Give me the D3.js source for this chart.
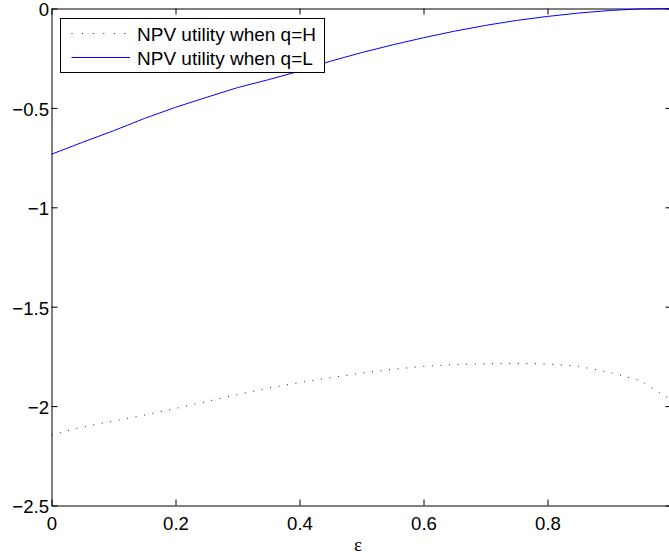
<!DOCTYPE html>
<html>
<head>
<meta charset="utf-8">
<script src="https://cdn.jsdelivr.net/npm/d3@7"></script>
<style>
  html, body { margin: 0; padding: 0; background: #fff; overflow: hidden; }
  svg { display: block; }
</style>
</head>
<body>
<svg id="chart" width="669" height="556"></svg>
<script>
// ---- data ----
const epsilon = [0, 0.05, 0.1, 0.15, 0.2, 0.25, 0.3, 0.35, 0.4, 0.45, 0.5,
                 0.55, 0.6, 0.65, 0.7, 0.75, 0.8, 0.85, 0.9, 0.95, 1.0];
const utilityH = [-2.145, -2.105, -2.075, -2.045, -2.012, -1.977, -1.942, -1.909, -1.882, -1.857, -1.834,
                  -1.815, -1.800, -1.791, -1.787, -1.785, -1.788, -1.800, -1.830, -1.872, -1.970];
const utilityL = [-0.733, -0.673, -0.615, -0.553, -0.497, -0.447, -0.398, -0.358, -0.315, -0.265, -0.222,
                  -0.183, -0.147, -0.114, -0.085, -0.060, -0.040, -0.023, -0.010, -0.002, 0];
const xTicks = [0, 0.2, 0.4, 0.6, 0.8, 1];
const yTicks = [0, -0.5, -1, -1.5, -2, -2.5];
const seriesNames = ["NPV utility when q=H", "NPV utility when q=L"];
const xLabel = "ε";

// ---- layout ----
const svg = d3.select("#chart");
const pLeft = 51.5, pRight = 671.5, pTop = 8.5, pBottom = 505.5;
const font = "'Liberation Sans', Arial, Helvetica, sans-serif";
const fs = 18.6;

const x = d3.scaleLinear().domain([0, 1]).range([pLeft, pRight]);
const y = d3.scaleLinear().domain([-2.5, 0]).range([pBottom, pTop]);
const fmt = d3.format("");

function styleAxis(g) {
  g.attr("font-family", font).attr("font-size", fs);
  g.selectAll("path.domain").attr("stroke", "#000").attr("stroke-width", 1);
  g.selectAll(".tick line").attr("stroke", "#000").attr("stroke-width", 1);
  g.selectAll(".tick text").attr("fill", "#000");
}

// bottom axis
svg.append("g").attr("transform", `translate(0,${pBottom})`)
  .call(d3.axisBottom(x).tickValues(xTicks).tickSizeInner(-6).tickSizeOuter(0).tickPadding(11)
        .tickFormat(d => d === 1 ? "" : fmt(d)))
  .call(styleAxis);
// top axis
svg.append("g").attr("transform", `translate(0,${pTop})`)
  .call(d3.axisTop(x).tickValues(xTicks).tickSizeInner(-6).tickSizeOuter(0).tickFormat(""))
  .call(styleAxis);
// left axis
svg.append("g").attr("transform", `translate(${pLeft},0)`)
  .call(d3.axisLeft(y).tickValues(yTicks).tickSizeInner(-6).tickSizeOuter(0).tickPadding(2.5)
        .tickFormat(d => fmt(d)))
  .call(styleAxis)
  .selectAll(".tick text").attr("dy", "0.4em");
// right axis
svg.append("g").attr("transform", `translate(${pRight},0)`)
  .call(d3.axisRight(y).tickValues(yTicks).tickSizeInner(-6).tickSizeOuter(0).tickFormat(""))
  .call(styleAxis);

// x label
svg.append("text").attr("x", 358).attr("y", 551)
  .attr("text-anchor", "middle")
  .attr("font-family", "'Liberation Serif', 'DejaVu Serif', serif")
  .attr("font-size", 19).attr("fill", "#000").text(xLabel);

// ---- lines ----
const line = ys => d3.line().x((d, i) => x(epsilon[i])).y((d, i) => y(ys[i]))(epsilon);

svg.append("path").attr("d", line(utilityH))
  .attr("fill", "none").attr("stroke", "#0000ff").attr("stroke-width", 1)
  .attr("stroke-dasharray", "1,7.6");
svg.append("path").attr("d", line(utilityL))
  .attr("fill", "none").attr("stroke", "#0000ff").attr("stroke-width", 1);

// ---- legend ----
const lg = svg.append("g");
lg.append("rect").attr("x", 60.5).attr("y", 18.5).attr("width", 264).attr("height", 54)
  .attr("fill", "#fff").attr("stroke", "#000").attr("stroke-width", 1);
const rows = [
  { name: seriesNames[0], yy: 33.5, dash: "1,9.6", x2: 126 },
  { name: seriesNames[1], yy: 57.5, dash: null, x2: 130 }
];
rows.forEach(r => {
  const l = lg.append("line").attr("x1", 71.5).attr("x2", r.x2).attr("y1", r.yy).attr("y2", r.yy)
    .attr("stroke", "#0000ff").attr("stroke-width", 1);
  if (r.dash) l.attr("stroke-dasharray", r.dash);
  lg.append("text").attr("x", 137).attr("y", r.yy + 7.8)
    .attr("font-family", font).attr("font-size", 19).attr("fill", "#000").text(r.name);
});
</script>
</body>
</html>
